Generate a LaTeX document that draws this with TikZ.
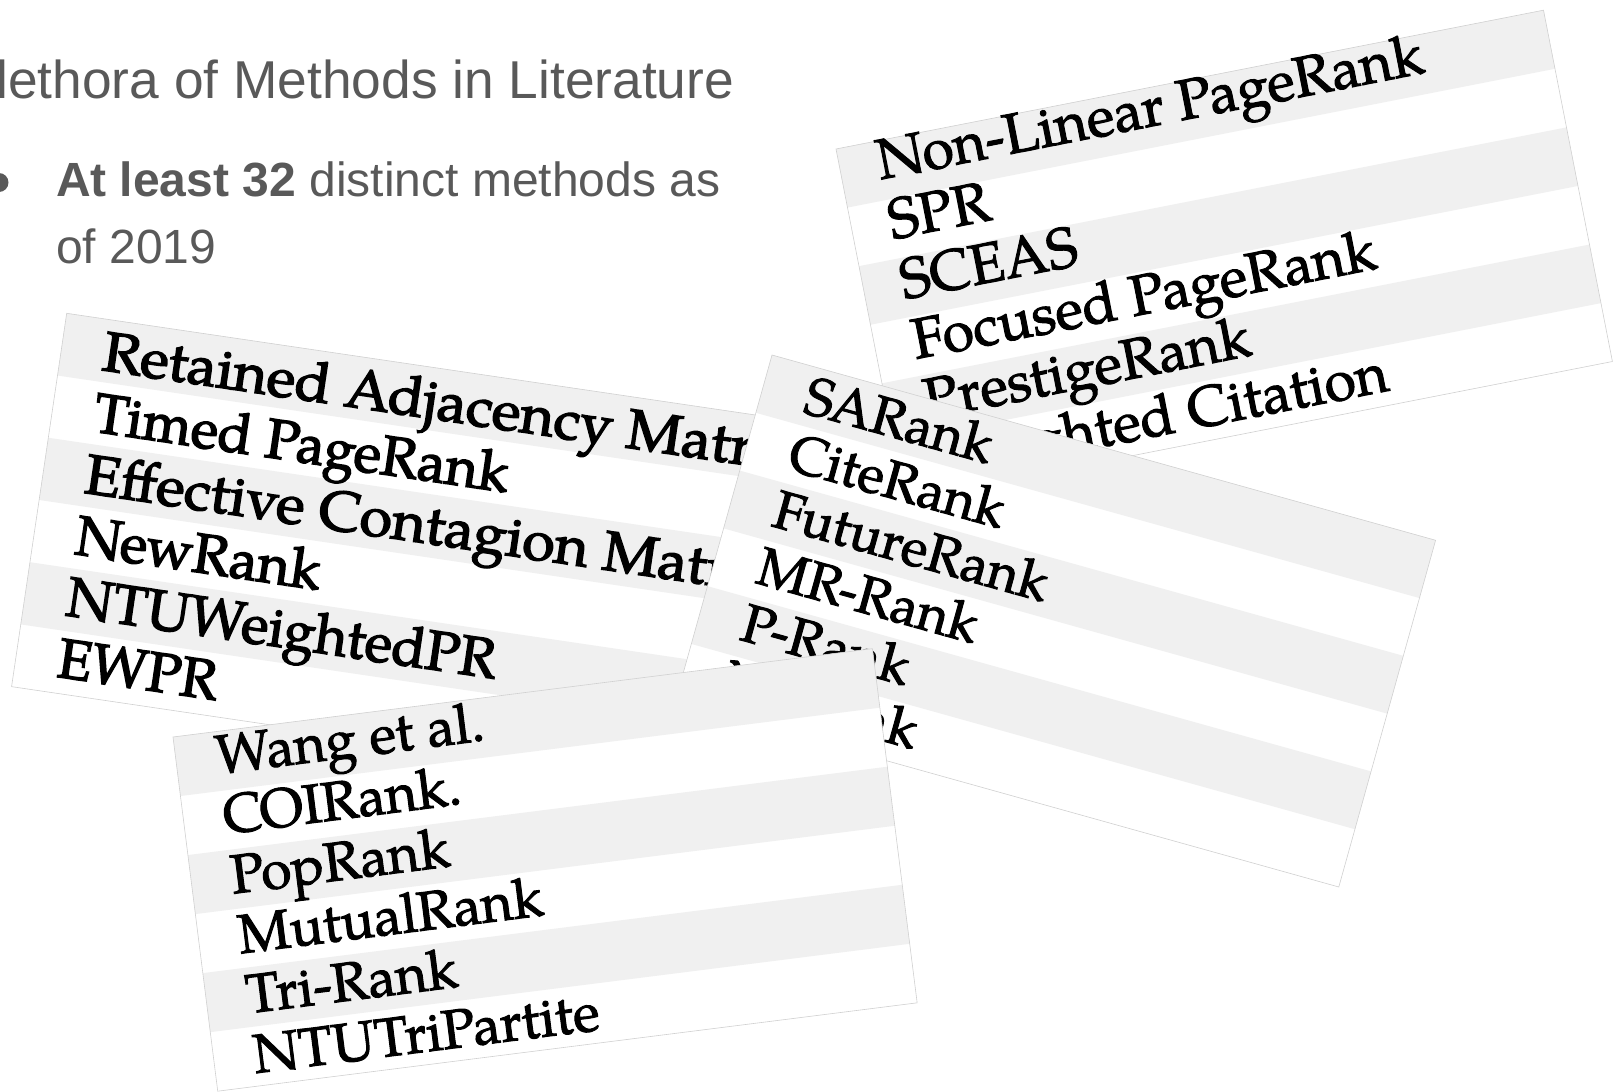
\documentclass[tikz,border=0pt]{standalone}
\usepackage{fontspec}
\setmainfont{Liberation Sans}
\newfontfamily\entryfont{texgyrepagella-regular}[Extension=.otf, FakeBold=1.8]
\newfontfamily\entryfontdark{texgyrepagella-regular}[Extension=.otf, FakeBold=2.6]

\definecolor{slidegray}{HTML}{595959}
\definecolor{rowshade}{HTML}{F0F0F0}
\definecolor{cardline}{HTML}{D0D0D0}

\tikzset{
  slidetext/.style={anchor=base west, inner sep=0pt, outer sep=0pt, text=slidegray},
  entry/.style={anchor=base west, inner sep=0pt, outer sep=0pt, transform shape, text=black},
  rowband/.style={fill=rowshade},
  cardrim/.style={draw=cardline, line width=0.6pt},
}

\begin{document}
\begin{tikzpicture}[x=1pt, y=-1pt]
  \useasboundingbox (0,0) rectangle (1614,1092);
  \fill[white] (0,0) rectangle (1614,1092);
  \clip (0,0) rectangle (1614,1092);

  % heading and bullet point
  \node[slidetext, font=\fontsize{53.3}{64}\selectfont] (title) at (-39.2,98)
    {Plethora of Methods in Literature};
  \fill[slidegray] (-1,182.5) circle[radius=9.5pt];
  \node[slidetext, font=\fontsize{48}{66}\selectfont] (point1) at (56,196)
    {\textbf{At least 32} distinct methods as};
  \node[slidetext, font=\fontsize{48}{66}\selectfont] (point2) at (56,263)
    {of 2019};

  % table excerpt: PageRank variants
  \begin{scope}[shift={(836,149)}, rotate=11.1]
    \fill[white] (0,0) rectangle (721,358);
    \foreach \k in {0,2,4}
      \fill[rowband] (0,{59.7*\k}) rectangle (721,{59.7*(\k+1)});
    \draw[cardrim] (0,0) rectangle (721,358);
    \begin{scope}[font=\entryfont\fontsize{57}{60}\selectfont]
      \node[entry] (a1) at (38,38.5)  {Non-Linear PageRank};
      \node[entry] (a2) at (38,99.5)  {SPR};
      \node[entry] (a3) at (38,160.5) {SCEAS};
      \node[entry] (a4) at (38,221.5) {Focused PageRank};
      \node[entry] (a5) at (38,282.5) {PrestigeRank};
      \node[entry] (a6) at (38,343.5) {Weighted Citation};
    \end{scope}
  \end{scope}

  % table excerpt: time-aware methods
  \begin{scope}[shift={(66.7,313.3)}, rotate=-8.4]
    \fill[white] (0,0) rectangle (720,377.4);
    \foreach \k in {0,2,4}
      \fill[rowband] (0,{62.9*\k}) rectangle (720,{62.9*(\k+1)});
    \draw[cardrim] (0,0) rectangle (720,377.4);
    \begin{scope}[font=\entryfontdark\fontsize{56}{60}\selectfont]
      \node[entry, xscale=1.05] (b1) at (42,51)  {Retained Adjacency Matrix};
      \node[entry] (b2) at (42,113) {Timed PageRank};
      \node[entry, xscale=1.05] (b3) at (42,175) {Effective Contagion Matrix};
      \node[entry] (b4) at (42,237) {NewRank};
      \node[entry] (b5) at (42,299) {NTUWeightedPR};
      \node[entry] (b6) at (42,361) {EWPR};
    \end{scope}
  \end{scope}

  % table excerpt: metadata-aware methods
  \begin{scope}[shift={(772,355)}, rotate=-15.6]
    \fill[white] (0,0) rectangle (689,360);
    \foreach \k in {0,2,4}
      \fill[rowband] (0,{60*\k}) rectangle (689,{60*(\k+1)});
    \draw[cardrim] (0,0) rectangle (689,360);
    \begin{scope}[font=\entryfont\fontsize{54}{58}\selectfont]
      \node[entry] (c1) at (44,47)  {SARank};
      \node[entry] (c2) at (44,106) {CiteRank};
      \node[entry] (c3) at (44,165) {FutureRank};
      \node[entry] (c4) at (44,224) {MR-Rank};
      \node[entry] (c5) at (44,283) {P-Rank};
      \node[entry] (c6) at (42,342) {YetRank};
    \end{scope}
  \end{scope}

  % table excerpt: heterogeneous network methods
  \begin{scope}[shift={(173,737)}, rotate=7.2]
    \fill[white] (0,0) rectangle (705,357);
    \foreach \k in {0,2,4}
      \fill[rowband] (0,{59.5*\k}) rectangle (705,{59.5*(\k+1)});
    \draw[cardrim] (0,0) rectangle (705,357);
    \begin{scope}[font=\entryfont\fontsize{55}{58}\selectfont]
      \node[entry] (d1) at (40,42.4)  {Wang et al.};
      \node[entry] (d2) at (40,102.7) {COIRank.};
      \node[entry] (d3) at (40,163)   {PopRank};
      \node[entry] (d4) at (40,223.3) {MutualRank};
      \node[entry] (d5) at (40,283.6) {Tri-Rank};
      \node[entry] (d6) at (40,343.9) {NTUTriPartite};
    \end{scope}
  \end{scope}
\end{tikzpicture}
\end{document}
